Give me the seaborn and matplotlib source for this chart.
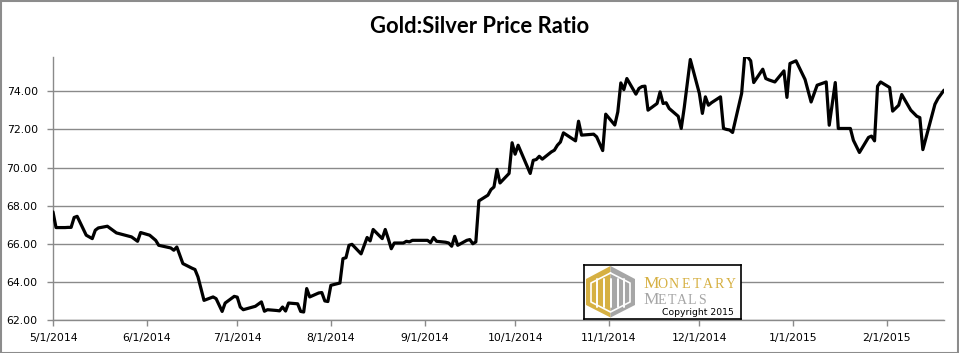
import pandas as pd
import matplotlib
matplotlib.use("Agg")
import matplotlib.pyplot as plt
import matplotlib.dates as mdates
from matplotlib.patches import Polygon, Rectangle
import numpy as np
import seaborn as sns

# Gold:Silver ratio
dates = [
    "5/1/2014", "5/2/2014", "5/5/2014", "5/6/2014", "5/7/2014", "5/8/2014", "5/9/2014",
    "5/12/2014", "5/14/2014", "5/15/2014", "5/16/2014", "5/19/2014", "5/22/2014", "5/27/2014",
    "5/29/2014", "5/30/2014", "6/2/2014", "6/4/2014", "6/5/2014", "6/9/2014", "6/10/2014",
    "6/11/2014", "6/13/2014", "6/16/2014", "6/17/2014", "6/18/2014", "6/20/2014", "6/23/2014",
    "6/24/2014", "6/26/2014", "6/27/2014", "6/30/2014", "7/1/2014", "7/2/2014", "7/3/2014",
    "7/7/2014", "7/9/2014", "7/10/2014", "7/11/2014", "7/14/2014", "7/15/2014", "7/16/2014",
    "7/17/2014", "7/18/2014", "7/21/2014", "7/22/2014", "7/23/2014", "7/24/2014", "7/25/2014",
    "7/28/2014", "7/29/2014", "7/30/2014", "7/31/2014", "8/1/2014", "8/4/2014", "8/5/2014",
    "8/6/2014", "8/7/2014", "8/8/2014", "8/11/2014", "8/13/2014", "8/14/2014", "8/15/2014",
    "8/18/2014", "8/19/2014", "8/20/2014", "8/21/2014", "8/22/2014", "8/25/2014", "8/26/2014",
    "8/27/2014", "8/28/2014", "8/29/2014", "9/2/2014", "9/3/2014", "9/4/2014", "9/5/2014",
    "9/8/2014", "9/9/2014", "9/10/2014", "9/11/2014", "9/12/2014", "9/15/2014", "9/16/2014",
    "9/17/2014", "9/18/2014", "9/19/2014", "9/22/2014", "9/23/2014", "9/24/2014", "9/25/2014",
    "9/26/2014", "9/29/2014", "9/30/2014", "10/1/2014", "10/2/2014", "10/6/2014", "10/7/2014",
    "10/8/2014", "10/9/2014", "10/10/2014", "10/13/2014", "10/14/2014", "10/15/2014",
    "10/16/2014", "10/17/2014", "10/21/2014", "10/22/2014", "10/23/2014", "10/27/2014",
    "10/28/2014", "10/30/2014", "10/31/2014", "11/3/2014", "11/4/2014", "11/5/2014",
    "11/6/2014", "11/7/2014", "11/10/2014", "11/11/2014", "11/12/2014", "11/13/2014",
    "11/14/2014", "11/17/2014", "11/18/2014", "11/19/2014", "11/20/2014", "11/21/2014",
    "11/24/2014", "11/25/2014", "11/26/2014", "11/28/2014", "12/1/2014", "12/2/2014",
    "12/3/2014", "12/4/2014", "12/5/2014", "12/8/2014", "12/9/2014", "12/10/2014",
    "12/11/2014", "12/12/2014", "12/15/2014", "12/16/2014", "12/17/2014", "12/18/2014",
    "12/19/2014", "12/22/2014", "12/23/2014", "12/24/2014", "12/26/2014", "12/29/2014",
    "12/30/2014", "12/31/2014", "1/2/2015", "1/5/2015", "1/7/2015", "1/9/2015", "1/12/2015",
    "1/13/2015", "1/15/2015", "1/16/2015", "1/20/2015", "1/21/2015", "1/23/2015", "1/26/2015",
    "1/27/2015", "1/28/2015", "1/29/2015", "1/30/2015", "2/2/2015", "2/3/2015", "2/5/2015",
    "2/6/2015", "2/9/2015", "2/11/2015", "2/12/2015", "2/13/2015", "2/17/2015", "2/18/2015",
    "2/20/2015",
]
ratio = [
    67.67, 66.85, 66.85, 66.86, 66.86, 67.38, 67.44,
    66.45, 66.27, 66.71, 66.83, 66.92, 66.57, 66.36,
    66.13, 66.59, 66.45, 66.18, 65.92, 65.78, 65.66,
    65.83, 64.96, 64.72, 64.65, 64.26, 63.03, 63.21,
    63.12, 62.45, 62.89, 63.24, 63.20, 62.68, 62.54,
    62.72, 62.95, 62.46, 62.54, 62.50, 62.48, 62.68,
    62.47, 62.89, 62.85, 62.45, 62.42, 63.65, 63.21,
    63.42, 63.44, 63.00, 62.97, 63.82, 63.94, 65.22,
    65.27, 65.92, 65.97, 65.47, 66.33, 66.15, 66.75,
    66.27, 66.75, 66.27, 65.74, 66.04, 66.04, 66.13,
    66.10, 66.18, 66.18, 66.18, 66.06, 66.33, 66.13,
    66.08, 66.04, 65.87, 66.39, 65.92, 66.18, 66.22,
    66.00, 66.10, 68.25, 68.55, 68.84, 68.98, 69.90,
    69.19, 69.69, 71.30, 70.70, 71.17, 69.69, 70.38,
    70.42, 70.59, 70.44, 70.82, 70.91, 71.17,
    71.34, 71.82, 71.40, 72.43, 71.70, 71.75,
    71.61, 70.89, 72.80, 72.23, 72.92, 74.44,
    74.09, 74.67, 73.85, 74.15, 74.25, 74.27,
    73.01, 73.36, 73.97, 73.36, 73.40, 73.10,
    72.69, 72.05, 73.15, 75.67, 73.89, 72.84,
    73.71, 73.27, 73.40, 73.71, 72.05, 72.00,
    71.97, 71.84, 73.89, 75.81, 75.80, 75.60,
    74.46, 75.16, 74.67, 74.60, 74.49, 75.07,
    73.68, 75.46, 75.60, 74.62, 73.44, 74.32, 74.49,
    72.22, 74.46, 72.05, 72.05, 71.43, 70.79, 71.58,
    71.65, 71.40, 74.27, 74.49, 74.20, 72.96, 73.27,
    73.83, 73.01, 72.69, 72.62, 70.94, 73.32, 73.62,
    74.06,
]
y_ticks = [62, 64, 66, 68, 70, 72, 74]

df = pd.DataFrame({"date": pd.to_datetime(dates, format="%m/%d/%Y"), "ratio": ratio})

sns.set_style("white")
plt.rcParams["font.family"] = ["DejaVu Sans"]

W, H = 959, 353
fig = plt.figure(figsize=(W / 100, H / 100), dpi=100)
ax = fig.add_axes([53 / W, (H - 320) / H, (944 - 53) / W, (320 - 57) / H])

grid_col = "#8a8a8a"
sns.lineplot(data=df, x="date", y="ratio", color="black", linewidth=2.3, ax=ax, zorder=3)

ax.set_ylim(62, 75.8)
ax.set_yticks(y_ticks)
ax.yaxis.set_major_formatter(plt.FuncFormatter(lambda v, p: f"{v:.2f}"))
ax.set_xlim(pd.Timestamp("2014-05-01"), pd.Timestamp("2015-02-20"))
ax.xaxis.set_major_locator(mdates.MonthLocator())
ax.xaxis.set_major_formatter(plt.FuncFormatter(
    lambda v, p: f"{mdates.num2date(v).month}/{mdates.num2date(v).day}/{mdates.num2date(v).year}"))

ax.grid(axis="y", color=grid_col, linewidth=1.0, zorder=0)
ax.grid(axis="x", visible=False)
ax.set_axisbelow(True)
for s in ["top", "right"]:
    ax.spines[s].set_visible(False)
for s in ["left", "bottom"]:
    ax.spines[s].set_color(grid_col)
    ax.spines[s].set_linewidth(1.0)
ax.tick_params(axis="y", length=4, width=1, color=grid_col, pad=7, labelsize=7.8, labelcolor="black", left=True)
ax.tick_params(axis="x", length=4, width=1, color=grid_col, pad=5, labelsize=7.8, labelcolor="black", bottom=True)
ax.set_xlabel("")
ax.set_ylabel("")

fig.text(0.5, 1 - 33 / H, "Gold:Silver Price Ratio", ha="center", va="baseline", color="black",
         fontsize=15.8, fontweight="bold", family=["Lato", "DejaVu Sans"])

# chart border
fig.patches.append(Rectangle((0.5 / W, 0.5 / H), (W - 1.5) / W, (H - 1.5) / H, transform=fig.transFigure,
                             fill=False, edgecolor="#8c8c8c", linewidth=1.5))

# Monetary Metals logo box
lg = fig.add_axes([584 / W, (H - 319) / H, (741 - 584) / W, (319 - 265) / H], zorder=5)
lg.set_xlim(0, 157)
lg.set_ylim(0, 54)
lg.set_xticks([])
lg.set_yticks([])
for s in lg.spines.values():
    s.set_color("black")
    s.set_linewidth(1.2)
    s.set_visible(True)
lg.set_facecolor("white")

gold = "#D6B042"
grey = "#A6A6A6"
cx = 26.5
lg.add_patch(Polygon([(cx, 53), (2, 40), (2, 14), (cx, 1.5)], closed=True, color=gold, lw=0))
lg.add_patch(Polygon([(cx, 53), (51, 40), (51, 14), (cx, 1.5)], closed=True, color=grey, lw=0))
inner = np.array([(cx, 46), (7, 36), (7, 17), (cx, 7), (46, 17), (46, 36), (cx, 46)])
lg.plot(inner[:, 0], inner[:, 1], color="white", lw=1.2)
for bx in [13, 19.5, 26.5, 33.5, 40]:
    lg.plot([bx, bx], [12, 40], color="white", lw=1.4)

lg.text(59, 30.5, "M", color=gold, fontsize=12.5, family="Liberation Serif", ha="left", va="baseline")
for ch, xc in zip("ONETARY", np.linspace(78.5, 147, 7)):
    lg.text(xc, 30.5, ch, color=gold, fontsize=10, family="Liberation Serif", ha="center", va="baseline")
lg.text(59, 15, "M", color=grey, fontsize=12.5, family="Liberation Serif", ha="left", va="baseline")
for ch, xc in zip("ETALS", np.linspace(78, 117.6, 5)):
    lg.text(xc, 15, ch, color=grey, fontsize=10, family="Liberation Serif", ha="center", va="baseline")
lg.text(150, 4, "Copyright 2015", color="black", fontsize=6.7, ha="right", va="baseline")

fig.savefig("out.png", dpi=100)
